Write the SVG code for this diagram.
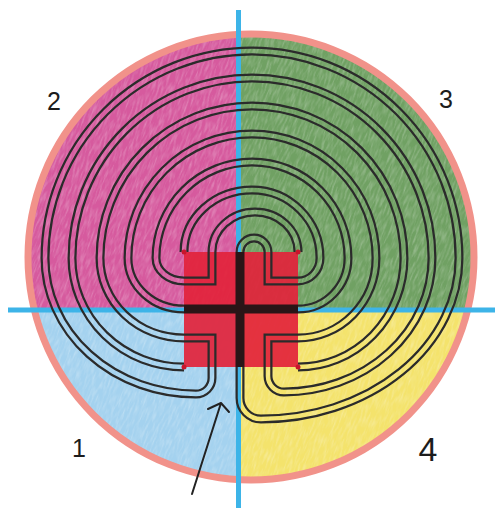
<svg xmlns="http://www.w3.org/2000/svg" xmlns:xlink="http://www.w3.org/1999/xlink" width="495" height="508" viewBox="0 0 495 508">
<style>
  .lbl{font-family:"Liberation Sans",Arial,sans-serif;fill:#1c1c1c;text-anchor:middle}
  .dot{fill:#c8162c}
  .pen{fill:none;stroke:#222;stroke-width:2;stroke-linecap:round;stroke-linejoin:round}
</style>
<defs>
  <clipPath id="disc"><circle cx="251" cy="257" r="221"/></clipPath>
  <filter id="grain" x="0" y="0" width="100%" height="100%">
    <feTurbulence type="fractalNoise" baseFrequency="0.5 0.09" numOctaves="2" seed="4"/>
    <feColorMatrix type="matrix" values="0 0 0 0 1  0 0 0 0 1  0 0 0 0 1  0 0 0 1.5 -0.6"/>
  </filter>
  <g id="under">
    <g clip-path="url(#disc)">
      <rect x="0" y="0" width="238.5" height="310" fill="#d65a9e"/>
      <rect x="238.5" y="0" width="256.5" height="310" fill="#70a163"/>
      <rect x="0" y="310" width="238.5" height="198" fill="#a4d2ef"/>
      <rect x="238.5" y="310" width="256.5" height="198" fill="#f4e36c"/>
      <rect x="-150" y="-150" width="800" height="800" filter="url(#grain)" opacity="0.4" transform="rotate(20 251 257)"/>
    </g>
    <circle cx="251" cy="257" r="223" fill="none" stroke="#f1928a" stroke-width="7"/>
    <path d="M238.5,10 V508 M8,310 H495" stroke="#3db4e8" stroke-width="5" fill="none"/>
    <rect x="184" y="252" width="114" height="115" fill="#e2233b" fill-opacity="0.92"/>
  </g>
  <g id="walls" fill="none">
    <path d="M298,252 A43,40 0 0 0 212,252 L212,281 L184,281 A28,23 0 0 1 156,258 A96,96 0 0 1 252,162 A96,96 0 0 1 348,258 A50,51 0 0 1 298,309"/>
    <path d="M184,252 A68,62 0 0 1 252,190 A68,68 0 0 1 320,258 A22,23 0 0 1 298,281 L268,281 L268,252 A14,14 0 0 0 240,252"/>
    <path d="M298,367 A106,109 0 0 0 404,258 A152,152 0 0 0 252,106 A152,152 0 0 0 100,258 A84,80 0 0 0 184,338 L212,338 L212,378 A16,16 0 0 1 196,394 A151,136 0 0 1 45,258 A207,207 0 0 1 252,51 A207,207 0 0 1 459,258 A198,161 0 0 1 261,419 A21,21 0 0 1 240,398 L240,367"/>
    <path d="M184,309 A56,51 0 0 1 128,258 A124,124 0 0 1 252,134 A124,124 0 0 1 376,258 A78,80 0 0 1 298,338 L268,338 L268,376 A16,16 0 0 0 284,392 A148,134 0 0 0 432,258 A180,180 0 0 0 252,78 A180,180 0 0 0 72,258 A112,109 0 0 0 184,367"/>
  </g>
  <mask id="inner" maskUnits="userSpaceOnUse" x="0" y="0" width="495" height="508">
    <use href="#walls" stroke="#fff" stroke-width="4.5"/>
  </mask>
</defs>
<rect width="495" height="508" fill="#fff"/>
<g id="background">
  <use href="#under"/>
</g>
<g id="labyrinth">
  <use href="#walls" stroke="#2b2b2b" stroke-width="9"/>
  <use href="#under" mask="url(#inner)"/>
  <path id="cross" d="M240,252 V367 M184,309 H298" stroke="#2a1517" stroke-width="9" fill="none"/>
  <circle class="dot" cx="184" cy="252" r="2.5"/>
  <circle class="dot" cx="298" cy="252" r="2.5"/>
  <circle class="dot" cx="184" cy="367" r="2.5"/>
  <circle class="dot" cx="298" cy="367" r="2.5"/>
</g>
<g id="labels">
  <text id="q1" class="lbl" x="79" y="457" font-size="25">1</text>
  <text id="q2" class="lbl" x="54" y="110" font-size="25">2</text>
  <text id="q3" class="lbl" x="446" y="108" font-size="25">3</text>
  <text id="q4" class="lbl" x="428" y="461" font-size="34">4</text>
</g>
<g id="connectors">
  <path class="pen" d="M192,494 L221,403 M208,409 L221,403 L229,412"/>
</g>
</svg>
